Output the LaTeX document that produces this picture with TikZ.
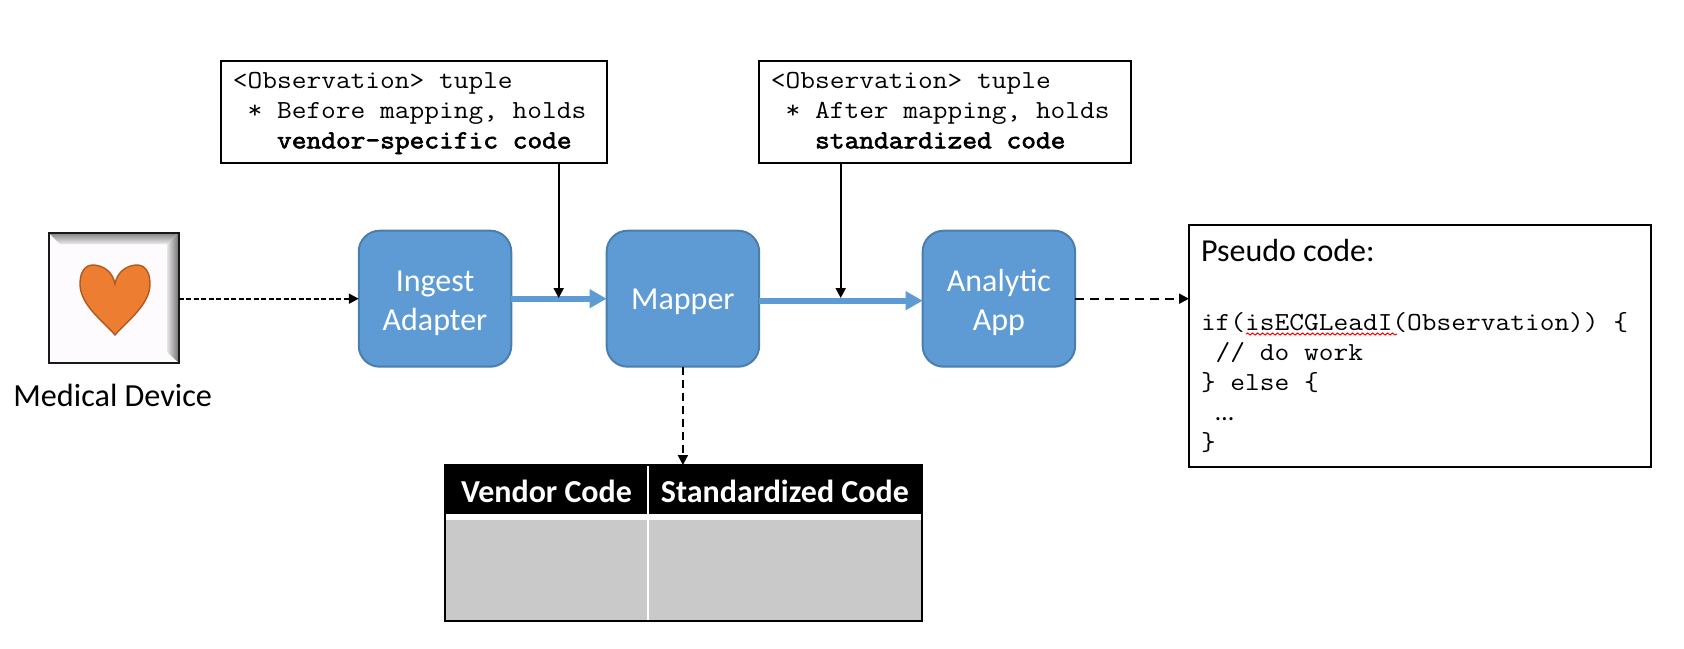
\documentclass[tikz,border=0pt]{standalone}
\usepackage{fontspec}
\setsansfont{Carlito}
\setmonofont{Latin Modern Mono}[FakeStretch=1.1, BoldFont=Latin Modern Mono, BoldFeatures={FakeBold=2.5}]
\usetikzlibrary{arrows.meta}
\usetikzlibrary{decorations.pathmorphing}
\definecolor{stageblue}{HTML}{5E9AD3}
\definecolor{stageedge}{HTML}{4A7EAC}
\definecolor{heartfill}{HTML}{ED7D31}
\definecolor{heartedge}{HTML}{AE5A21}
\definecolor{tablegrey}{HTML}{C9C9C9}
\definecolor{devicepaper}{HTML}{FDFBFE}

\begin{document}
\begin{tikzpicture}[x=1pt, y=-1pt, % one unit is one pixel of the layout, y runs down
                    every node/.style = {inner sep=0pt, outer sep=0pt},
                    stage/.style = {draw=stageedge, fill=stageblue, line width=2pt, rounded corners=21pt,
                                    minimum width=152.5pt, minimum height=136pt, text=white, align=center,
                                    font=\sffamily\fontsize{32}{39}\selectfont,
                                    execute at begin node=\rule{0pt}{27pt}},
                    codebox/.style = {draw, line width=2pt, align=flush left, inner xsep=12pt,
                                      font=\ttfamily\fontsize{26}{30}\selectfont},
                    headcell/.style = {fill=black, text=white, minimum height=49pt,
                                       font=\sffamily\bfseries\fontsize{32}{36}\selectfont,
                                       execute at begin node=\rule{0pt}{27pt}},
                    bodycell/.style = {fill=tablegrey, minimum height=106.5pt},
                    flow/.style = {stageblue, line width=6pt, -{Triangle[length=17pt,width=18pt]}},
                    link/.style = {line width=2pt, -{Triangle[length=10pt,width=10pt]}}
                   ]
  \useasboundingbox (0,0) rectangle (1684,648);

  % device picture
  \node[minimum width=130pt, minimum height=130pt] (device) at (113.5,297.5) {};
  \fill[devicepaper] (device.north west) rectangle (device.south east);
  \shade[top color=black!50, bottom color=black!8] (48.5,232.5) -- (178.5,232.5) -- (167,244) -- (60,244) -- cycle;
  \shade[left color=black!10, right color=black!55] (178.5,232.5) -- (178.5,362.5) -- (167,352) -- (167,244) -- cycle;
  \draw[line width=2pt, black!90] (device.north west) rectangle (device.south east);
  \draw[heartedge, fill=heartfill, line width=1.4pt] (115,335)
    .. controls (104,322) and (80,305) .. (80,284)
    .. controls (80,272) and (85,265) .. (93,265)
    .. controls (103,265) and (113,272) .. (115,284)
    .. controls (117,272) and (127,265) .. (137,265)
    .. controls (145,265) and (150,272) .. (150,284)
    .. controls (150,305) and (126,322) .. (115,335) -- cycle;
  \node[font=\sffamily\fontsize{32.2}{36}\selectfont] (devicelabel) at (112.7,395) {Medical Device};

  % stages
  \node[stage] (ingest) at (435,298.7) {Ingest\rule{0pt}{30.5pt}\\Adapter};
  \node[stage] (mapper) at (682.9,298.7) {Mapper};
  \node[stage] (analytic) at (998.9,298.7) {Analytic\rule{0pt}{30.5pt}\\App};

  % the two notes above
  \node[codebox, minimum width=386pt, minimum height=102pt, text width=362pt] (beforebox) at (413.9,111.7)
    {\rule{0pt}{19pt}<Observation> tuple\\\ *\ Before mapping, holds\\\ \ \ \textbf{vendor-specific code}};
  \node[codebox, minimum width=372pt, minimum height=102pt, text width=348pt] (afterbox) at (944.9,111.7)
    {\rule{0pt}{19pt}<Observation> tuple\\\ *\ After mapping, holds\\\ \ \ \textbf{standardized code}\vphantom{p}};

  % pseudo code
  \node[codebox, minimum width=462pt, minimum height=242pt, text width=438pt] (pseudobox) at (1420,346)
    {\rule{0pt}{22pt}{\sffamily\fontsize{32}{36}\selectfont Pseudo code:}\\[39pt]
     if(isECGLeadI(Observation)) \{\\\ //\ do work\\\}\ else \{\\\ {\sffamily …}\\\}};
  \draw[red, line width=1pt, decorate, decoration={snake, amplitude=1pt, segment length=5pt}]
    (1246,334) -- (1397,334);

  % table
  \node[headcell, minimum width=203pt] (vendorhead) at (546.5,489.5) {Vendor Code};
  \node[headcell, minimum width=273.7pt] (standardhead) at (784.85,489.5) {Standardized Code};
  \node[bodycell, minimum width=203pt] (vendorbody) at (546.5,567.25) {};
  \node[bodycell, minimum width=273.7pt] (standardbody) at (784.85,567.25) {};
  \draw[white, line width=1.6pt] (vendorhead.north east) -- (vendorbody.south east);
  \draw[white, line width=6pt] ([yshift=-3pt]vendorbody.north west) -- ([yshift=-3pt]standardbody.north east);
  \draw[line width=2pt] (vendorhead.north west) rectangle (standardbody.south east);

  % connectors
  \coordinate (beforehit) at (558.7,298);
  \coordinate (afterhit) at (840.7,298);
  \draw[flow] (ingest.east) -- (mapper.west);
  \draw[flow] ([yshift=-2pt]mapper.east) -- ([yshift=-2pt]analytic.west);
  \draw[link] (beforebox.south -| beforehit) -- (beforehit);
  \draw[link] (afterbox.south -| afterhit) -- (afterhit);
  \draw[link, dash pattern=on 5pt off 2.5pt] (device.east |- ingest.west) -- (ingest.west);
  \draw[link, dash pattern=on 9pt off 6pt] (analytic.east) -- (analytic.east -| pseudobox.west);
  \draw[link, dash pattern=on 8pt off 5pt] (mapper.south) -- (mapper.south |- standardhead.north);
\end{tikzpicture}
\end{document}
